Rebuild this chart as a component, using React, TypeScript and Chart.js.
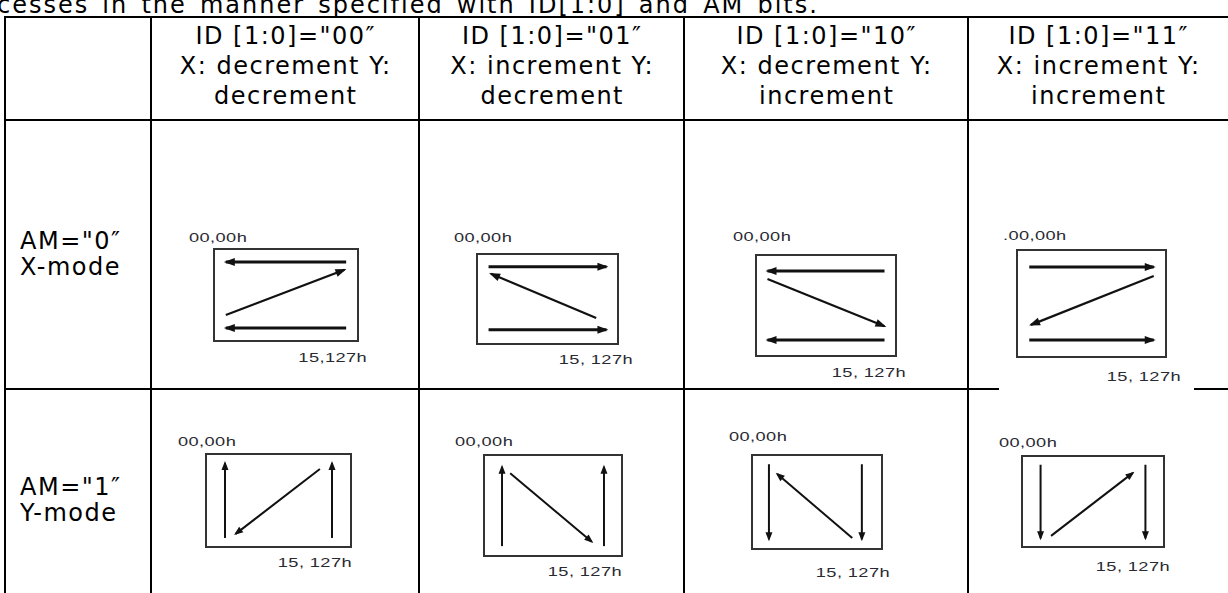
import React, { useEffect, useRef } from "react";
import { Chart, registerables } from "chart.js";

Chart.register(...registerables);

// ---------------- data ----------------
const TOP_TEXT = "cesses in the manner specified with ID[1:0] and AM bits.";

const COLUMN_HEADERS = [
  ['ID [1:0]="00″', "X: decrement Y:", "decrement"],
  ['ID [1:0]="01″', "X: increment Y:", "decrement"],
  ['ID [1:0]="10″', "X: decrement Y:", "increment"],
  ['ID [1:0]="11″', "X: increment Y:", "increment"],
];

const ROW_LABELS = [
  ['AM="0″', "X-mode"],
  ['AM="1″', "Y-mode"],
];

const START_LABELS = [
  ["00,00h", "00,00h", "00,00h", ".00,00h"],
  ["00,00h", "00,00h", "00,00h", "00,00h"],
];
const END_LABELS = [
  ["15,127h", "15, 127h", "15, 127h", "15, 127h"],
  ["15, 127h", "15, 127h", "15, 127h", "15, 127h"],
];

// scan arrows in address units (x: column 0..15, y: row 0..127); each arrow = [from, to]
const XMODE_ARROWS = [
  [[[15, 0], [0, 0]], [[0, 102], [14.8, 15]], [[15, 127], [0, 127]]],
  [[[0, 0], [15, 0]], [[13.7, 101], [0.3, 14]], [[0, 124], [15, 124]]],
  [[[15, 3], [0, 3]], [[0, 17], [15, 100]], [[15, 124], [0, 124]]],
  [[[0, 3], [15, 3]], [[15, 18], [0.2, 99]], [[0, 124], [15, 124]]],
];
const YMODE_ARROWS = [
  [[[0, 127], [0, 0]], [[13.3, 10], [1.5, 120]], [[15, 127], [15, 0]]],
  [[[0, 127], [0, 3]], [[1.2, 13], [13.2, 120]], [[15, 127], [15, 3]]],
  [[[0, 0], [0, 126]], [[13, 124], [1.3, 16.5]], [[14.5, 0], [14.5, 126]]],
  [[[0, 0], [0, 127]], [[1.5, 123], [13.2, 14]], [[15, 0], [15, 127]]],
];

// ---------------- layout (page pixels) ----------------
const COL_EDGES = [5, 151, 419, 684, 968, 1228];
const ROW_EDGES = [17, 120, 389, 593];
const BOXES = [
  [[213, 248, 359, 342], [476, 253, 619, 345], [755, 254, 897, 357], [1016, 249, 1167, 358]],
  [[205, 453, 352, 548], [483, 454, 623, 557], [751, 454, 883, 550], [1021, 455, 1165, 548]],
];
const START_POS = [
  [[189, 238], [454, 238], [733, 237], [1003, 236]],
  [[178, 442], [455, 442], [729, 437], [999, 443]],
];
const END_POS = [
  [[367, 358], [633, 360], [906, 373], [1181, 377]],
  [[352, 563], [622, 572], [890, 573], [1170, 567]],
];
const HEADER_FIRST_BASELINE = 44;
const HEADER_PITCH = 30;
const ROW_FIRST_BASELINES = [249, 495];
const ROW_PITCH = 26;

const ROW_STYLES = [
  { x: [-1.6, 16.6], y: [-27, 154], lw: 3, diag: 2.2, head: [11, 8] },
  { x: [-2.8, 17.8], y: [-17, 144], lw: 2, diag: 2, head: [9, 7] },
];

const FONT = '"DejaVu Sans", Verdana, sans-serif';
const FS = 24;
// DejaVu Sans: ascent 0.928em, descent 0.236em
const baselineOffset = (lh: number) => (lh - FS * 1.164) / 2 + FS * 0.928;

const boxAndHeads = {
  id: "boxAndHeads",
  afterDatasetsDraw(chart: any, _args: any, opts: any) {
    const ctx = chart.ctx;
    const a = chart.chartArea;
    ctx.save();
    ctx.strokeStyle = "#333";
    ctx.lineWidth = 2;
    ctx.strokeRect(a.left + 1, a.top + 1, a.right - a.left - 2, a.bottom - a.top - 2);
    const len = opts.len || 10;
    const wid = opts.width || 8;
    chart.data.datasets.forEach((_d: any, i: number) => {
      const pts = chart.getDatasetMeta(i).data;
      if (pts.length < 2) return;
      const p1 = pts[pts.length - 1];
      const p0 = pts[pts.length - 2];
      const ang = Math.atan2(p1.y - p0.y, p1.x - p0.x);
      const dx = Math.cos(ang), dy = Math.sin(ang);
      const tx = p1.x + dx * 2, ty = p1.y + dy * 2;
      const bx = tx - dx * len, by = ty - dy * len;
      ctx.beginPath();
      ctx.moveTo(tx, ty);
      ctx.lineTo(bx - dy * wid / 2, by + dx * wid / 2);
      ctx.lineTo(bx + dy * wid / 2, by - dx * wid / 2);
      ctx.closePath();
      ctx.fillStyle = "#111";
      ctx.fill();
    });
    ctx.restore();
  },
};

function ScanDiagram({ box, arrows, style }: any) {
  const ref = useRef<HTMLCanvasElement>(null);
  const [l, t, r, b] = box;
  useEffect(() => {
    const chart = new Chart(ref.current as HTMLCanvasElement, {
      type: "scatter",
      data: {
        datasets: arrows.map((seg: number[][], i: number) => ({
          data: seg.map(([x, y]) => ({ x, y })),
          showLine: true,
          borderColor: "#111",
          backgroundColor: "#111",
          borderWidth: i === 1 ? style.diag : style.lw,
          borderCapStyle: "butt",
          pointRadius: 0,
          pointHoverRadius: 0,
        })),
      },
      options: {
        animation: false,
        responsive: false,
        maintainAspectRatio: false,
        devicePixelRatio: 1,
        events: [],
        layout: { padding: 0 },
        plugins: {
          legend: { display: false },
          tooltip: { enabled: false },
          title: { display: false },
          boxAndHeads: { len: style.head[0], width: style.head[1] },
        } as any,
        scales: {
          x: { type: "linear", display: false, min: style.x[0], max: style.x[1] },
          y: { type: "linear", display: false, min: style.y[0], max: style.y[1], reverse: true },
        },
      },
      plugins: [boxAndHeads as any],
    });
    return () => chart.destroy();
  }, []);
  return (
    <canvas
      ref={ref}
      width={r - l}
      height={b - t}
      style={{ position: "absolute", left: l, top: t, width: r - l, height: b - t }}
    />
  );
}

function HLine({ y, x1, x2 }: any) {
  return <div style={{ position: "absolute", left: x1 - 1, top: y - 1, width: x2 - x1 + 2, height: 2, background: "#000" }} />;
}
function VLine({ x, y1, y2 }: any) {
  return <div style={{ position: "absolute", left: x - 1, top: y1 - 1, width: 2, height: y2 - y1 + 2, background: "#000" }} />;
}

export default function App() {
  useEffect(() => {
    document.body.style.margin = "0";
  }, []);

  const textBlock = (lines: string[], firstBaseline: number, lh: number, left: number, width: number | null, align: string, key: string) => (
    <div
      key={key}
      style={{
        position: "absolute",
        left,
        width: width ?? undefined,
        top: firstBaseline - baselineOffset(lh),
        lineHeight: lh + "px",
        fontFamily: FONT,
        fontSize: FS,
        letterSpacing: "1.5px",
        paddingLeft: align === "center" ? 1.5 : 0,
        boxSizing: "border-box",
        textAlign: align as any,
        whiteSpace: "nowrap",
        color: "#000",
      }}
    >
      {lines.map((t, i) => (
        <div key={i}>{t}</div>
      ))}
    </div>
  );

  const labelStyle: any = {
    position: "absolute",
    height: 14,
    lineHeight: "14px",
    fontFamily: '"Liberation Sans", Arial, sans-serif',
    fontSize: 13,
    letterSpacing: "0.3px",
    color: "#2a2a32",
    whiteSpace: "nowrap",
  };

  const rows = [XMODE_ARROWS, YMODE_ARROWS];
  const W = 1228;

  return (
    <div style={{ position: "relative", width: W, height: 593, overflow: "hidden", background: "#fff" }}>
      <div
        style={{
          position: "absolute",
          left: -3,
          top: 13 - baselineOffset(30),
          lineHeight: "30px",
          height: 30,
          fontFamily: FONT,
          fontSize: FS,
          letterSpacing: "2px",
          wordSpacing: "3.5px",
          whiteSpace: "nowrap",
          color: "#000",
        }}
      >
        {TOP_TEXT}
      </div>

      {/* grid */}
      <HLine y={ROW_EDGES[0]} x1={COL_EDGES[0]} x2={W} />
      <HLine y={ROW_EDGES[1]} x1={COL_EDGES[0]} x2={W} />
      <HLine y={ROW_EDGES[2]} x1={COL_EDGES[0]} x2={998} />
      <HLine y={ROW_EDGES[2]} x1={1195} x2={W} />
      {COL_EDGES.slice(0, 5).map((x, i) => (
        <VLine key={"v" + i} x={x} y1={ROW_EDGES[0]} y2={ROW_EDGES[3]} />
      ))}

      {/* column headers */}
      {COLUMN_HEADERS.map((lines, c) =>
        textBlock(lines, HEADER_FIRST_BASELINE, HEADER_PITCH, COL_EDGES[c + 1], COL_EDGES[c + 2] - COL_EDGES[c + 1], "center", `h${c}`)
      )}

      {/* row labels */}
      {ROW_LABELS.map((lines, r) => textBlock(lines, ROW_FIRST_BASELINES[r], ROW_PITCH, 20, null, "left", `r${r}`))}

      {/* diagrams */}
      {rows.map((rowArrows, r) =>
        rowArrows.map((arrows, c) => (
          <ScanDiagram key={`d${r}-${c}`} box={BOXES[r][c]} arrows={arrows} style={ROW_STYLES[r]} />
        ))
      )}

      {START_LABELS.map((row, r) =>
        row.map((txt, c) => (
          <div
            key={`s${r}-${c}`}
            style={{
              ...labelStyle,
              left: START_POS[r][c][0],
              top: START_POS[r][c][1] - 7,
              transform: "scaleX(1.4)",
              transformOrigin: "left center",
            }}
          >
            {txt}
          </div>
        ))
      )}
      {END_LABELS.map((row, r) =>
        row.map((txt, c) => (
          <div
            key={`e${r}-${c}`}
            style={{
              ...labelStyle,
              right: W - END_POS[r][c][0],
              top: END_POS[r][c][1] - 7,
              textAlign: "right",
              transform: "scaleX(1.4)",
              transformOrigin: "right center",
            }}
          >
            {txt}
          </div>
        ))
      )}
    </div>
  );
}
